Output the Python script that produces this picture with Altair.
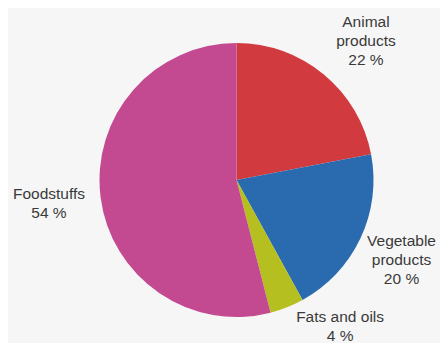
import altair as alt
import pandas as pd

categories = ["Animal products", "Vegetable products", "Fats and oils", "Foodstuffs"]
values = [22, 20, 4, 54]
label_texts = ["Animal\nproducts\n22 %", "Vegetable\nproducts\n20 %", "Fats and oils\n4 %", "Foodstuffs\n54 %"]
colors = ["#d13b40", "#2a6aaf", "#b5bf1f", "#c34a91"]
slice_order = [0, 1, 2, 3]

df = pd.DataFrame({
    "category": categories,
    "value": values,
    "label": label_texts,
    "order": slice_order,
})

CX, CY = 228.5, 172
R = 137
LH = 19

base = alt.Chart(df)

pie = base.mark_arc(outerRadius=R).encode(
    theta=alt.Theta("value:Q", stack=True),
    color=alt.Color("category:N", scale=alt.Scale(domain=categories, range=colors), legend=None),
    order=alt.Order("order:Q"),
    x=alt.value(CX),
    y=alt.value(CY),
)

lab_base = base.transform_joinaggregate(
    total="sum(value)"
).transform_window(
    cum="sum(value)", sort=[alt.SortField("order")]
).transform_calculate(
    mid="(datum.cum - datum.value / 2) / datum.total * 2 * PI"
)

def label_layer(cat, dx, dy, nlines):
    return lab_base.transform_filter(alt.datum.category == cat).mark_text(
        radius=189, dx=dx, dy=dy - (nlines - 1) * LH / 2, lineBreak="\n",
        align="center", baseline="middle",
        font="Liberation Sans", fontSize=15.5, lineHeight=LH, color="#3a3a3a",
    ).encode(
        theta=alt.Theta("mid:Q", scale=None, stack=None),
        text="label:N",
        x=alt.value(CX),
        y=alt.value(CY),
    )

labels = [
    label_layer("Animal products", 9, 7, 3),
    label_layer("Vegetable products", -6, 0, 3),
    label_layer("Fats and oils", 34, -29, 2),
    label_layer("Foodstuffs", 0, 0, 2),
]

chart = alt.layer(pie, *labels).resolve_scale(theta="independent").properties(
    width=432, height=335, autosize=alt.AutoSizeParams(type="none"), padding=0,
    background="#f6f6f6",
).configure_view(stroke=None)

chart.save("out.html", embed_options={"renderer": "svg", "actions": False})
